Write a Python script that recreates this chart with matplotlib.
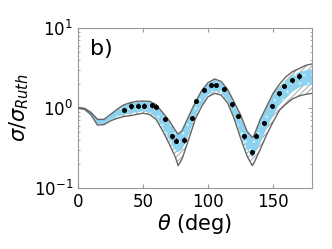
import matplotlib
matplotlib.use("Agg")
import matplotlib.pyplot as plt

plt.rcParams['hatch.linewidth'] = 0.6

# band (theta in deg) - outer envelope and inner (blue) band
theta_band = [0, 5, 10, 15, 20, 25, 30, 35, 40, 45, 50, 55, 60, 65, 70, 75, 77,
              80, 85, 90, 95, 100, 105, 110, 115, 120, 125, 130, 134, 135, 140,
              145, 150, 155, 160, 165, 170, 175, 180]
outer_hi = [1.01, 0.99, 0.88, 0.72, 0.72, 0.83, 0.96, 1.09, 1.16, 1.21, 1.22, 1.21,
            1.10, 0.88, 0.70, 0.52, 0.47, 0.52, 0.78, 1.16, 1.64, 2.07, 2.30, 2.15,
            1.71, 1.19, 0.82, 0.51, 0.43, 0.44, 0.71, 1.04, 1.52, 1.99, 2.46, 2.85,
            3.10, 3.40, 3.55]
outer_lo = [0.99, 0.96, 0.82, 0.61, 0.62, 0.69, 0.74, 0.78, 0.80, 0.83, 0.86, 0.83,
            0.72, 0.52, 0.36, 0.24, 0.19, 0.23, 0.40, 0.71, 1.04, 1.38, 1.52, 1.45,
            1.16, 0.74, 0.42, 0.25, 0.19, 0.20, 0.30, 0.46, 0.67, 0.94, 1.12, 1.30,
            1.41, 1.48, 1.52]
inner_hi = [1.005, 0.985, 0.87, 0.71, 0.71, 0.82, 0.94, 1.07, 1.13, 1.18, 1.19, 1.18,
            1.07, 0.86, 0.68, 0.50, 0.46, 0.50, 0.76, 1.13, 1.60, 2.02, 2.24, 2.10,
            1.67, 1.16, 0.80, 0.50, 0.42, 0.43, 0.69, 1.01, 1.45, 1.85, 2.20, 2.55,
            2.80, 2.95, 3.05]
inner_lo = [0.995, 0.965, 0.83, 0.63, 0.63, 0.71, 0.77, 0.82, 0.85, 0.88, 0.91, 0.88,
            0.76, 0.57, 0.40, 0.29, 0.28, 0.30, 0.46, 0.78, 1.12, 1.47, 1.62, 1.55,
            1.23, 0.80, 0.47, 0.30, 0.24, 0.25, 0.36, 0.55, 0.80, 1.10, 1.35, 1.60,
            1.80, 1.90, 1.95]

# experimental points
theta_exp = [35.6, 40.8, 46.4, 50.8, 57.2, 60.2, 66.6, 72.5, 75.6, 81.5, 87.7, 90.8,
             97.2, 102.0, 106.4, 112.3, 118.7, 123.3, 128.0, 133.8, 137.0, 142.8,
             149.2, 154.4, 158.7, 164.8, 170.0]
sig_exp = [0.94, 1.06, 1.07, 1.07, 1.08, 1.04, 0.73, 0.44, 0.39, 0.40, 0.75, 1.22,
           1.66, 1.95, 1.95, 1.71, 1.11, 0.79, 0.44, 0.28, 0.45, 0.65, 1.06, 1.52,
           1.87, 2.22, 2.49]
err_exp = [0.06, 0.08, 0.08, 0.08, 0.08, 0.07, 0.05, 0.03, 0.03, 0.03, 0.05, 0.08,
           0.10, 0.12, 0.12, 0.10, 0.07, 0.05, 0.03, 0.02, 0.03, 0.04, 0.07, 0.10,
           0.12, 0.16, 0.22]

fig = plt.figure(figsize=(3.32, 2.49), dpi=100)
ax = fig.add_axes([0.235, 0.245, 0.705, 0.643])

ax.fill_between(theta_band, outer_lo, outer_hi, facecolor='white',
                edgecolor='#999999', hatch='//////', linewidth=0, zorder=1)
ax.plot(theta_band, outer_hi, color='#666666', lw=1.0, zorder=3)
ax.plot(theta_band, outer_lo, color='#666666', lw=1.0, zorder=3)
ax.fill_between(theta_band, inner_lo, inner_hi, facecolor='#8dd3ef',
                edgecolor='#cdeef9', hatch='..', linewidth=0, zorder=2)
ax.plot(theta_band[:5], inner_hi[:5], color='#6fb6d6', lw=0.8, zorder=2)

ax.errorbar(theta_exp, sig_exp, yerr=err_exp, fmt='o', color='black',
            ms=2.6, elinewidth=0.8, capsize=0, zorder=4)

ax.set_yscale('log')
ax.set_xlim(0, 180)
ax.set_ylim(0.1, 10)
ax.set_xticks([0, 50, 100, 150])
ax.tick_params(which='both', direction='in', top=True, right=True,
               colors='#999999', labelcolor='black', labelsize=12)
ax.tick_params(which='major', length=3)
ax.tick_params(which='minor', length=1.5)
for s in ax.spines.values():
    s.set_color('#999999')

ax.set_xlabel(r'$\theta$ (deg)', fontsize=15, labelpad=1)
ax.set_ylabel(r'$\sigma/\sigma_{Ruth}$', fontsize=15, labelpad=2)
ax.text(0.05, 0.83, 'b)', transform=ax.transAxes, fontsize=16)

fig.savefig('out.png', dpi=100)
